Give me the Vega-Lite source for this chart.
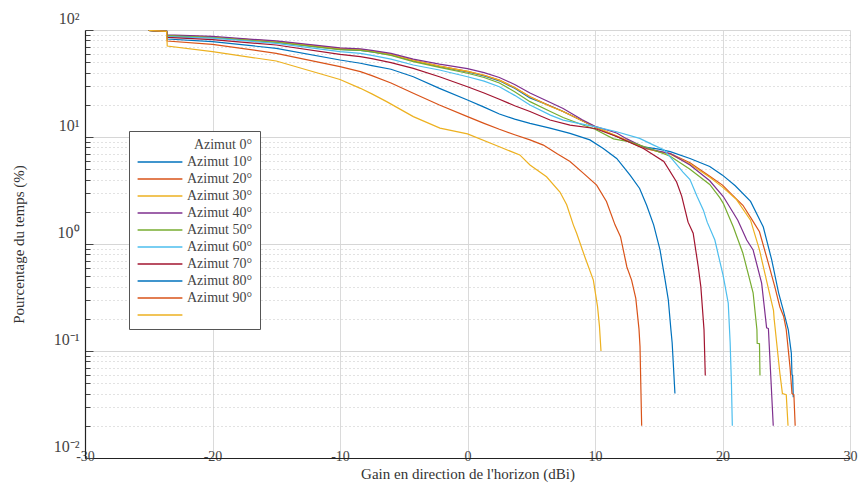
{
"$schema":"https://vega.github.io/schema/vega-lite/v6.json",
"width":765,"height":428,
"autosize":{"type":"none"},
"padding":{"left":85,"top":30,"right":8,"bottom":28},
"background":"white",
"config":{"view":{"stroke":null},"font":"Liberation Serif"},
"datasets":{"curves":[
{"a":"0","g":-25,"p":99},{"a":"0","g":-23.6,"p":97},{"a":"0","g":-23.55,"p":88},{"a":"0","g":-20,"p":85.5},{"a":"0","g":-15,"p":77},{"a":"0","g":-10,"p":66},{"a":"0","g":-8.4,"p":64.5},{"a":"0","g":-7.5,"p":62.5},{"a":"0","g":-6,"p":58.5},{"a":"0","g":-4.25,"p":51.5},{"a":"0","g":-2.2,"p":45.5},{"a":"0","g":0,"p":40.5},{"a":"0","g":1.3,"p":37.2},{"a":"0","g":2.5,"p":33.5},{"a":"0","g":3.7,"p":28.5},{"a":"0","g":4.9,"p":23.2},{"a":"0","g":6.5,"p":19.5},{"a":"0","g":7.5,"p":17.3},{"a":"0","g":9,"p":14.2},{"a":"0","g":10,"p":12.4},{"a":"0","g":11.5,"p":10.4},{"a":"0","g":12.5,"p":9.2},{"a":"0","g":13.8,"p":8.1},{"a":"0","g":15,"p":7.7},{"a":"0","g":15.9,"p":7.3},{"a":"0","g":17.45,"p":6.3},{"a":"0","g":19,"p":5.3},{"a":"0","g":20,"p":4.4},{"a":"0","g":21,"p":3.5},{"a":"0","g":22.2,"p":2.5},{"a":"0","g":23.2,"p":1.44},{"a":"0","g":23.86,"p":0.71},{"a":"0","g":24.4,"p":0.35},{"a":"0","g":24.77,"p":0.24},{"a":"0","g":25.16,"p":0.158},{"a":"0","g":25.4,"p":0.095},{"a":"0","g":25.45,"p":0.06},{"a":"0","g":25.5,"p":0.059},{"a":"0","g":25.55,"p":0.037},
{"a":"10","g":-25,"p":99},{"a":"10","g":-23.6,"p":97},{"a":"10","g":-23.55,"p":89},{"a":"10","g":-20,"p":86},{"a":"10","g":-15,"p":78},{"a":"10","g":-10,"p":67},{"a":"10","g":-8.4,"p":65.5},{"a":"10","g":-7.5,"p":63.5},{"a":"10","g":-6,"p":59},{"a":"10","g":-4.25,"p":52},{"a":"10","g":-2.2,"p":46},{"a":"10","g":0,"p":41},{"a":"10","g":1.3,"p":37.8},{"a":"10","g":2.5,"p":34},{"a":"10","g":3.7,"p":29},{"a":"10","g":4.9,"p":23.8},{"a":"10","g":6.5,"p":19.5},{"a":"10","g":7.5,"p":17.3},{"a":"10","g":9,"p":14.2},{"a":"10","g":10,"p":12.4},{"a":"10","g":11.5,"p":10.4},{"a":"10","g":12.5,"p":9.2},{"a":"10","g":13.8,"p":7.9},{"a":"10","g":15,"p":7.3},{"a":"10","g":15.9,"p":7.0},{"a":"10","g":17.45,"p":5.75},{"a":"10","g":19,"p":4.3},{"a":"10","g":20,"p":3.55},{"a":"10","g":21,"p":2.7},{"a":"10","g":21.6,"p":2.3},{"a":"10","g":22.3,"p":1.7},{"a":"10","g":22.9,"p":1.3},{"a":"10","g":23.6,"p":0.66},{"a":"10","g":24.1,"p":0.4},{"a":"10","g":24.5,"p":0.258},{"a":"10","g":24.8,"p":0.21},{"a":"10","g":25.0,"p":0.158},{"a":"10","g":25.3,"p":0.07},{"a":"10","g":25.45,"p":0.04},{"a":"10","g":25.6,"p":0.039},{"a":"10","g":25.7,"p":0.02},
{"a":"20","g":-25,"p":99},{"a":"20","g":-23.6,"p":97},{"a":"20","g":-23.55,"p":89},{"a":"20","g":-20,"p":86},{"a":"20","g":-15,"p":78},{"a":"20","g":-10,"p":67},{"a":"20","g":-8.4,"p":65.5},{"a":"20","g":-7.5,"p":63.5},{"a":"20","g":-6,"p":59},{"a":"20","g":-4.25,"p":52},{"a":"20","g":-2.2,"p":46},{"a":"20","g":0,"p":41},{"a":"20","g":1.3,"p":37.8},{"a":"20","g":2.5,"p":34},{"a":"20","g":3.7,"p":29},{"a":"20","g":4.9,"p":23.8},{"a":"20","g":6.5,"p":19.3},{"a":"20","g":7.5,"p":17.3},{"a":"20","g":9,"p":14.2},{"a":"20","g":10,"p":12.5},{"a":"20","g":11.5,"p":10.5},{"a":"20","g":12.5,"p":9.3},{"a":"20","g":13.8,"p":7.9},{"a":"20","g":15,"p":7.3},{"a":"20","g":15.9,"p":6.9},{"a":"20","g":17.45,"p":5.6},{"a":"20","g":19,"p":4.2},{"a":"20","g":20,"p":3.4},{"a":"20","g":21.1,"p":2.6},{"a":"20","g":22.2,"p":1.67},{"a":"20","g":22.9,"p":0.88},{"a":"20","g":23.5,"p":0.43},{"a":"20","g":24.0,"p":0.24},{"a":"20","g":24.05,"p":0.2},{"a":"20","g":24.5,"p":0.062},{"a":"20","g":24.7,"p":0.04},{"a":"20","g":25.0,"p":0.039},{"a":"20","g":25.14,"p":0.02},
{"a":"30","g":-25,"p":99},{"a":"30","g":-23.6,"p":97},{"a":"30","g":-23.55,"p":90},{"a":"30","g":-20,"p":87},{"a":"30","g":-15,"p":79},{"a":"30","g":-10,"p":68},{"a":"30","g":-8.4,"p":66.5},{"a":"30","g":-7.5,"p":64.5},{"a":"30","g":-6,"p":60.5},{"a":"30","g":-4.25,"p":53.5},{"a":"30","g":-2.2,"p":48},{"a":"30","g":0,"p":43.5},{"a":"30","g":1.3,"p":40},{"a":"30","g":2.5,"p":36},{"a":"30","g":3.7,"p":31},{"a":"30","g":4.9,"p":25.8},{"a":"30","g":6.5,"p":21},{"a":"30","g":7.5,"p":18.5},{"a":"30","g":9,"p":14.5},{"a":"30","g":10,"p":12.6},{"a":"30","g":11.7,"p":10.9},{"a":"30","g":12.5,"p":9.6},{"a":"30","g":14.05,"p":7.8},{"a":"30","g":15.9,"p":7.0},{"a":"30","g":17.45,"p":5.47},{"a":"30","g":19,"p":3.9},{"a":"30","g":20.06,"p":2.78},{"a":"30","g":21.2,"p":1.67},{"a":"30","g":21.9,"p":1.09},{"a":"30","g":22.4,"p":0.88},{"a":"30","g":23.07,"p":0.43},{"a":"30","g":23.46,"p":0.165},{"a":"30","g":23.6,"p":0.162},{"a":"30","g":23.98,"p":0.02},
{"a":"40","g":-25,"p":99},{"a":"40","g":-23.6,"p":97},{"a":"40","g":-23.55,"p":88.5},{"a":"40","g":-20,"p":85},{"a":"40","g":-15,"p":76.5},{"a":"40","g":-10,"p":65.5},{"a":"40","g":-8.4,"p":64.5},{"a":"40","g":-7.5,"p":62.5},{"a":"40","g":-6,"p":58},{"a":"40","g":-4.25,"p":50.6},{"a":"40","g":-2.2,"p":44.8},{"a":"40","g":0,"p":39.4},{"a":"40","g":1.3,"p":36},{"a":"40","g":2.5,"p":32},{"a":"40","g":3.7,"p":26.5},{"a":"40","g":4.9,"p":21.4},{"a":"40","g":6.5,"p":17.3},{"a":"40","g":7.5,"p":15.2},{"a":"40","g":9,"p":13},{"a":"40","g":10,"p":11.8},{"a":"40","g":11.45,"p":9.6},{"a":"40","g":12.75,"p":9.0},{"a":"40","g":14.3,"p":7.8},{"a":"40","g":15.9,"p":6.6},{"a":"40","g":17.45,"p":5.0},{"a":"40","g":19,"p":3.6},{"a":"40","g":19.8,"p":2.7},{"a":"40","g":20.06,"p":2.4},{"a":"40","g":20.85,"p":1.44},{"a":"40","g":21.6,"p":0.82},{"a":"40","g":22.4,"p":0.35},{"a":"40","g":22.7,"p":0.158},{"a":"40","g":22.72,"p":0.118},{"a":"40","g":22.9,"p":0.117},{"a":"40","g":22.94,"p":0.059},
{"a":"50","g":-25,"p":99},{"a":"50","g":-23.6,"p":97},{"a":"50","g":-23.55,"p":86.6},{"a":"50","g":-20,"p":84},{"a":"50","g":-15,"p":75},{"a":"50","g":-10,"p":62.7},{"a":"50","g":-8.4,"p":60.5},{"a":"50","g":-7.5,"p":58},{"a":"50","g":-6,"p":53.5},{"a":"50","g":-4.25,"p":47.1},{"a":"50","g":-2.2,"p":42.3},{"a":"50","g":0,"p":36.6},{"a":"50","g":1.3,"p":33.3},{"a":"50","g":2.5,"p":29.5},{"a":"50","g":3.7,"p":24.5},{"a":"50","g":4.9,"p":19.9},{"a":"50","g":6.5,"p":16},{"a":"50","g":7.5,"p":14.4},{"a":"50","g":9,"p":13.2},{"a":"50","g":10,"p":12.5},{"a":"50","g":11.7,"p":11.2},{"a":"50","g":13.5,"p":9.7},{"a":"50","g":14.6,"p":8.4},{"a":"50","g":15.4,"p":7.6},{"a":"50","g":16.1,"p":6.1},{"a":"50","g":16.9,"p":4.7},{"a":"50","g":17.45,"p":4.0},{"a":"50","g":18.0,"p":2.8},{"a":"50","g":18.5,"p":2.07},{"a":"50","g":18.8,"p":1.6},{"a":"50","g":19.4,"p":1.09},{"a":"50","g":20.06,"p":0.5},{"a":"50","g":20.45,"p":0.28},{"a":"50","g":20.6,"p":0.12},{"a":"50","g":20.7,"p":0.05},{"a":"50","g":20.77,"p":0.02},
{"a":"60","g":-25,"p":99},{"a":"60","g":-23.6,"p":97},{"a":"60","g":-23.55,"p":85.4},{"a":"60","g":-20,"p":81.2},{"a":"60","g":-15,"p":72.4},{"a":"60","g":-10,"p":59.3},{"a":"60","g":-8.4,"p":56.3},{"a":"60","g":-7.5,"p":54},{"a":"60","g":-6,"p":49.5},{"a":"60","g":-4.25,"p":43.8},{"a":"60","g":-2.2,"p":36.6},{"a":"60","g":0,"p":29.5},{"a":"60","g":1.3,"p":25.8},{"a":"60","g":2.5,"p":22.5},{"a":"60","g":3.7,"p":19.6},{"a":"60","g":4.9,"p":17.3},{"a":"60","g":6.47,"p":14.4},{"a":"60","g":8.04,"p":12.9},{"a":"60","g":10,"p":12.0},{"a":"60","g":11.7,"p":10.1},{"a":"60","g":13.8,"p":7.8},{"a":"60","g":15.4,"p":5.9},{"a":"60","g":16.4,"p":3.8},{"a":"60","g":16.8,"p":2.8},{"a":"60","g":17.3,"p":1.6},{"a":"60","g":17.7,"p":1.26},{"a":"60","g":18.1,"p":0.61},{"a":"60","g":18.3,"p":0.4},{"a":"60","g":18.55,"p":0.158},{"a":"60","g":18.65,"p":0.059},
{"a":"70","g":-25,"p":99},{"a":"70","g":-23.6,"p":97},{"a":"70","g":-23.55,"p":82.4},{"a":"70","g":-20,"p":77.8},{"a":"70","g":-15,"p":67.4},{"a":"70","g":-10,"p":52.4},{"a":"70","g":-8.4,"p":48.9},{"a":"70","g":-7.5,"p":46.5},{"a":"70","g":-6,"p":43},{"a":"70","g":-4.25,"p":36.6},{"a":"70","g":-2.2,"p":28.5},{"a":"70","g":0,"p":22.2},{"a":"70","g":1.3,"p":19},{"a":"70","g":2.5,"p":16.4},{"a":"70","g":3.7,"p":14.7},{"a":"70","g":4.9,"p":13.4},{"a":"70","g":6.47,"p":12.1},{"a":"70","g":8.04,"p":10.8},{"a":"70","g":9.6,"p":9.4},{"a":"70","g":10.65,"p":7.8},{"a":"70","g":11.7,"p":6.3},{"a":"70","g":12.75,"p":4.4},{"a":"70","g":13.5,"p":3.3},{"a":"70","g":14.05,"p":2.3},{"a":"70","g":14.6,"p":1.51},{"a":"70","g":15.1,"p":0.88},{"a":"70","g":15.5,"p":0.46},{"a":"70","g":15.75,"p":0.3},{"a":"70","g":15.95,"p":0.16},{"a":"70","g":16.05,"p":0.12},{"a":"70","g":16.27,"p":0.04},
{"a":"80","g":-25,"p":99},{"a":"80","g":-23.6,"p":97},{"a":"80","g":-23.55,"p":78.9},{"a":"80","g":-20,"p":73.5},{"a":"80","g":-15,"p":60.5},{"a":"80","g":-10,"p":45.4},{"a":"80","g":-8.4,"p":40.8},{"a":"80","g":-7.5,"p":37.5},{"a":"80","g":-6,"p":32},{"a":"80","g":-4.25,"p":25.6},{"a":"80","g":-2.2,"p":19.9},{"a":"80","g":0,"p":15.5},{"a":"80","g":1.3,"p":13.4},{"a":"80","g":2.5,"p":11.8},{"a":"80","g":3.7,"p":10.5},{"a":"80","g":4.9,"p":9.4},{"a":"80","g":5.95,"p":8.4},{"a":"80","g":7.0,"p":7.0},{"a":"80","g":8.04,"p":5.9},{"a":"80","g":9.1,"p":4.57},{"a":"80","g":10.13,"p":3.55},{"a":"80","g":10.9,"p":2.5},{"a":"80","g":11.57,"p":1.51},{"a":"80","g":12.0,"p":1.17},{"a":"80","g":12.5,"p":0.61},{"a":"80","g":12.87,"p":0.46},{"a":"80","g":13.2,"p":0.31},{"a":"80","g":13.45,"p":0.16},{"a":"80","g":13.53,"p":0.11},{"a":"80","g":13.66,"p":0.02},
{"a":"90","g":-25,"p":99},{"a":"90","g":-23.6,"p":97},{"a":"90","g":-23.55,"p":70.8},{"a":"90","g":-20,"p":62.7},{"a":"90","g":-15,"p":51.3},{"a":"90","g":-10,"p":34.5},{"a":"90","g":-8.4,"p":28.5},{"a":"90","g":-7.5,"p":25.3},{"a":"90","g":-6.34,"p":21.4},{"a":"90","g":-4.25,"p":15.5},{"a":"90","g":-2.16,"p":12.1},{"a":"90","g":0,"p":10.7},{"a":"90","g":2.5,"p":8.1},{"a":"90","g":4.1,"p":6.8},{"a":"90","g":4.9,"p":5.47},{"a":"90","g":6.2,"p":4.25},{"a":"90","g":7.25,"p":3.06},{"a":"90","g":7.78,"p":2.33},{"a":"90","g":8.3,"p":1.51},{"a":"90","g":8.56,"p":1.26},{"a":"90","g":9.2,"p":0.76},{"a":"90","g":9.87,"p":0.46},{"a":"90","g":10.2,"p":0.26},{"a":"90","g":10.35,"p":0.17},{"a":"90","g":10.47,"p":0.1}
]},
"data":{"name":"curves"},
"mark":{"type":"line","strokeWidth":1.2,"clip":true},
"encoding":{
"x":{"field":"g","type":"quantitative","scale":{"domain":[-30,30],"nice":false,"zero":false},
 "axis":{"title":"Gain en direction de l'horizon (dBi)","values":[-30,-20,-10,0,10,20,30],"labelExpr":"'' + datum.value",
  "grid":true,"gridColor":"#dadada","gridWidth":1,"ticks":false,"domainColor":"#222","domainWidth":1.2,
  "labelFont":"Liberation Serif","labelFontSize":14,"labelColor":"#444","labelBaseline":"middle","labelPadding":-2,"labelFlush":false,
  "titleFont":"Liberation Serif","titleFontSize":15,"titleFontWeight":"normal","titleColor":"#333","titlePadding":3}},
"y":{"field":"p","type":"quantitative","scale":{"type":"log","domain":[0.01,100],"nice":false},
 "axis":{"title":"Pourcentage du temps (%)",
  "values":[0.01,0.02,0.03,0.04,0.05,0.06,0.07,0.08,0.09,0.1,0.2,0.3,0.4,0.5,0.6,0.7,0.8,0.9,1,2,3,4,5,6,7,8,9,10,20,30,40,50,60,70,80,90,100],
  "labelExpr":"datum.value == 100 ? '10²' : datum.value == 10 ? '10¹' : datum.value == 1 ? '10⁰' : datum.value == 0.1 ? '10⁻¹' : datum.value == 0.01 ? '10⁻²' : ''",
  "grid":true,
  "gridColor":{"condition":{"test":"indexof([0.01,0.1,1,10,100], datum.value) >= 0","value":"#d6d6d6"},"value":"#c4c4c4"},
  "gridDash":{"condition":{"test":"indexof([0.01,0.1,1,10,100], datum.value) >= 0","value":[]},"value":[1,3]},
  "ticks":true,"tickColor":"#444",
  "tickSize":{"condition":{"test":"indexof([0.01,0.1,1,10,100], datum.value) >= 0","value":-8},"value":-5},
  "domainColor":"#222","domainWidth":1.2,
  "labelFont":"Liberation Serif","labelFontSize":16,"labelColor":"#444","labelBaseline":"alphabetic","labelOffset":-7,"labelPadding":14,"labelFlush":false,"labelOverlap":false,
  "titleFont":"Liberation Serif","titleFontSize":15,"titleFontWeight":"normal","titleColor":"#333","titlePadding":27}},
"color":{"field":"a","type":"nominal",
 "scale":{"domain":["0","10","20","30","40","50","60","70","80","90"],
  "range":["#0072BD","#D95319","#EDB120","#7E2F8E","#77AC30","#4DBEEE","#A2142F","#0072BD","#D95319","#EDB120"]},
 "legend":{"orient":"none","legendX":44,"legendY":101,"title":"Azimut 0°","titleFont":"Liberation Serif","titleFontSize":14,"titleFontWeight":"normal","titleColor":"#444","titleAnchor":"end","titlePadding":2,
  "labelExpr":"datum.value == '90' ? '' : 'Azimut ' + (toNumber(datum.value) + 10) + '°'",
  "labelFont":"Liberation Serif","labelFontSize":14,"labelColor":"#444","labelOffset":19,
  "symbolType":"M-3.2,0H3.2","symbolSize":196,"symbolStrokeWidth":1.5,"symbolOffset":16,
  "strokeColor":"#555","fillColor":"white","padding":7,"rowPadding":2}}
}
}
